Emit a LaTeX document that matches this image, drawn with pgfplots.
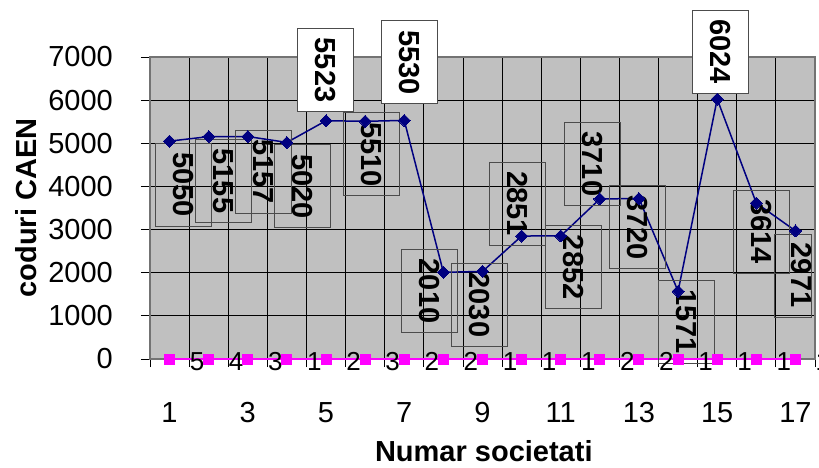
\documentclass[border=0pt]{standalone}
\usepackage{pgfplots}
\pgfplotsset{compat=1.18}
\usepackage{fontspec}
\setmainfont{Liberation Sans}
\definecolor{plotgray}{HTML}{C0C0C0}
\definecolor{navyline}{HTML}{000080}
\definecolor{magline}{HTML}{FF00FF}
\tikzset{
  lbl/.style={draw=black!70, line width=0.9pt, rotate=-90, minimum width=83pt, minimum height=56pt, inner sep=0pt, font=\fontsize{29}{30}\selectfont\bfseries, text=black},
}
\begin{document}
\begin{tikzpicture}
\begin{axis}[
  at={(150pt,-359pt)}, anchor=south west,
  scale only axis, width=665pt, height=302pt,
  xmin=0.5, xmax=17.5, ymin=0, ymax=7000,
  clip=false,
  axis background/.style={fill=plotgray},
  axis line style={draw=black!55, line width=1.3pt},
  xtick={1,3,...,17},
  major x tick style={draw=none},
  minor xtick={0.5,1.5,...,17.5},
  xminorgrids=true,
  ytick={0,1000,...,7000},
  ymajorgrids=true,
  xtick pos=bottom, ytick pos=left,
  grid style={black, line width=0.8pt},
  minor grid style={black, line width=0.8pt},
  tick align=outside,
  major tick length=9pt,
  minor tick length=8pt,
  tick style={black, line width=0.8pt},
  tick label style={font=\fontsize{29}{30}\selectfont},
  /pgf/number format/assume math mode=true,
  /pgf/number format/1000 sep={},
  yticklabel style={anchor=east, inner sep=0pt, xshift=-28pt},
  xticklabel style={anchor=north, inner sep=0pt, yshift=-34pt},
  xlabel={Numar societati},
  ylabel={coduri CAEN},
  label style={font=\fontsize{29}{30}\selectfont\bfseries},
  xlabel style={at={(rel axis cs:0.502,-0.3046)}, anchor=center},
  ylabel style={at={(rel axis cs:-0.1865,0.5)}, anchor=center},
]
\addplot[navyline, line width=1.5pt, mark=square*, mark size=4.25pt,
  mark options={rotate=45, fill=navyline, draw=navyline, line width=0pt}]
  coordinates {(1,5050)(2,5155)(3,5157)(4,5020)(5,5523)(6,5510)(7,5530)(8,2010)(9,2030)(10,2851)(11,2852)(12,3710)(13,3720)(14,1571)(15,6024)(16,3614)(17,2971)};
\addplot[magline, line width=2pt, mark=square*, mark size=5pt,
  mark options={fill=magline, draw=magline, line width=0pt},
  point meta=explicit symbolic, nodes near coords,
  nodes near coords style={font=\fontsize{26}{27}\selectfont, text=black, anchor=center, inner sep=0pt, xshift=27.5pt, yshift=-2.5pt}]
  coordinates {(1,0)[5] (2,0)[4] (3,0)[3] (4,0)[1] (5,0)[2] (6,0)[3] (7,0)[2] (8,0)[2] (9,0)[1] (10,0)[1] (11,0)[1] (12,0)[2] (13,0)[2] (14,0)[1] (15,0)[1] (16,0)[1] (17,0)[1]};
\node[xshift=14pt, yshift=-43.4pt, lbl] at (axis cs:1,5050) {5050};
\node[xshift=15pt, yshift=-44.4pt, lbl] at (axis cs:2,5155) {5155};
\node[xshift=15.5pt, yshift=-35pt, lbl] at (axis cs:3,5157) {5157};
\node[xshift=15.5pt, yshift=-44pt, lbl] at (axis cs:4,5020) {5020};
\node[xshift=-1pt, yshift=50.7pt, lbl, fill=white] at (axis cs:5,5523) {5523};
\node[xshift=6pt, yshift=-33pt, lbl] at (axis cs:6,5510) {5510};
\node[xshift=5pt, yshift=58pt, lbl, fill=white] at (axis cs:7,5530) {5530};
\node[xshift=-14.3pt, yshift=-18.8pt, lbl] at (axis cs:8,2010) {2010};
\node[xshift=-3.5pt, yshift=-33.5pt, lbl] at (axis cs:9,2030) {2030};
\node[xshift=-4pt, yshift=32.2pt, lbl] at (axis cs:10,2851) {2851};
\node[xshift=13pt, yshift=-31.2pt, lbl] at (axis cs:11,2852) {2852};
\node[xshift=-7.5pt, yshift=35pt, lbl] at (axis cs:12,3710) {3710};
\node[xshift=-1.5pt, yshift=-28.9pt, lbl] at (axis cs:13,3720) {3720};
\node[xshift=8.3pt, yshift=-30.3pt, lbl] at (axis cs:14,1571) {1571};
\node[xshift=3pt, yshift=47.5pt, lbl, fill=white] at (axis cs:15,6024) {6024};
\node[xshift=4.8pt, yshift=-28.7pt, lbl] at (axis cs:16,3614) {3614};
\node[xshift=-2.2pt, yshift=-45.6pt, draw=black!70, line width=0.9pt, minimum width=37pt, minimum height=83pt, inner sep=0pt] at (axis cs:17,2971) {};
\node[xshift=5.8pt, yshift=-44.3pt, rotate=-90, inner sep=0pt, font=\fontsize{29}{30}\selectfont\bfseries] at (axis cs:17,2971) {2971};
\end{axis}
\pgfresetboundingbox
\path[use as bounding box] (0,0) rectangle (819pt,-467pt);
\end{tikzpicture}
\end{document}
